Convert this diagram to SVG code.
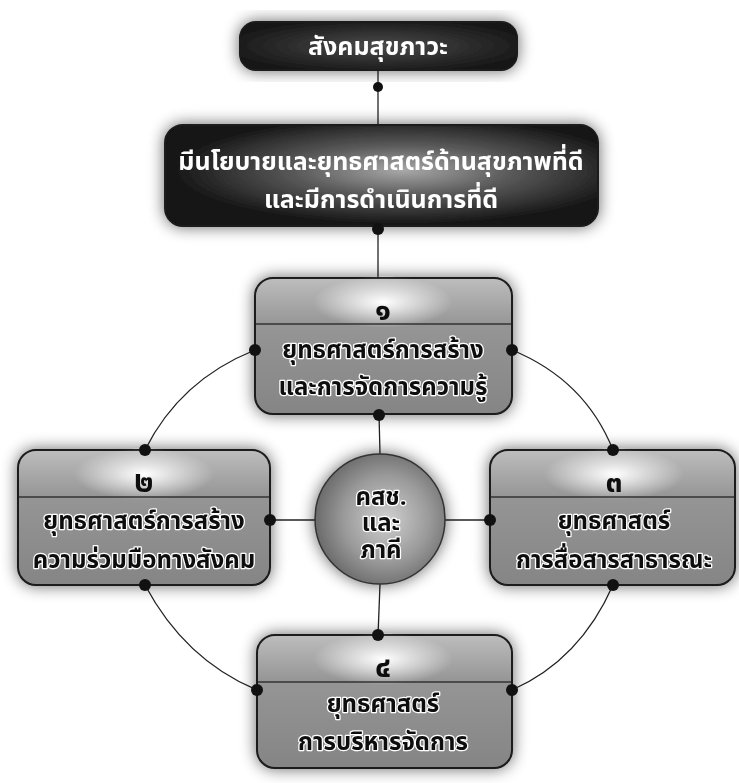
<svg xmlns="http://www.w3.org/2000/svg" width="739" height="783" viewBox="0 0 739 783">
<defs>
<filter id="shadow" x="-15%" y="-25%" width="130%" height="150%">
<feGaussianBlur in="SourceAlpha" stdDeviation="8"/>
<feComponentTransfer><feFuncA type="linear" slope="0.6"/></feComponentTransfer>
<feMerge><feMergeNode/><feMergeNode in="SourceGraphic"/></feMerge>
</filter>
<radialGradient id="gTop" cx="50%" cy="50%" r="60%">
<stop offset="0" stop-color="#4a4a4a"/><stop offset="1" stop-color="#141414"/>
</radialGradient>
<radialGradient id="gPolicy" cx="55%" cy="45%" r="55%">
<stop offset="0" stop-color="#a8a8a8"/><stop offset="0.45" stop-color="#5a5a5a"/><stop offset="1" stop-color="#121212"/>
</radialGradient>
<linearGradient id="gBox" x1="0" y1="0" x2="0" y2="1">
<stop offset="0" stop-color="#bdbdbd"/><stop offset="0.35" stop-color="#959595"/><stop offset="1" stop-color="#858585"/>
</linearGradient>
<radialGradient id="gHi" cx="50%" cy="50%" r="50%">
<stop offset="0" stop-color="#fff" stop-opacity="1"/><stop offset="1" stop-color="#fff" stop-opacity="0"/>
</radialGradient>
<radialGradient id="gCircle" cx="55%" cy="50%" r="55%">
<stop offset="0" stop-color="#d0d0d0"/><stop offset="0.6" stop-color="#9a9a9a"/><stop offset="1" stop-color="#6a6a6a"/>
</radialGradient>
</defs>
<style>
.box{stroke:#1a1a1a;stroke-width:2}
.div{stroke:#333;stroke-width:1.5}
.ln{fill:none;stroke:#222;stroke-width:1.3}
.dot{fill:#111}
.t{font-family:"Noto Sans Thai","Noto Sans","DejaVu Sans",sans-serif;font-weight:bold;text-anchor:middle}
.w{fill:#fff;font-size:25px}
.k{fill:#111;font-size:24px;stroke:#fff;stroke-width:2.5;paint-order:stroke;stroke-linejoin:round}
.n{fill:#111;font-size:30px}
</style>
<rect width="739" height="783" fill="#fff"/>
<g id="connectors">
<line class="ln" x1="378" y1="70" x2="378" y2="125"/>
<line class="ln" x1="378" y1="226" x2="378" y2="278"/>
<line class="ln" x1="379" y1="414" x2="380" y2="454"/>
<line class="ln" x1="380" y1="584" x2="378" y2="636"/>
<line class="ln" x1="270" y1="520" x2="315" y2="520"/>
<line class="ln" x1="445" y1="520" x2="490" y2="520"/>
<path class="ln" d="M255,350 Q180,380 145,450"/>
<path class="ln" d="M512,350 Q585,380 613,450"/>
<path class="ln" d="M145,585 Q185,660 257,690"/>
<path class="ln" d="M613,585 Q580,660 512,690"/>
</g>
<g id="n-top" filter="url(#shadow)">
<rect class="box" x="240" y="22" width="277" height="48" rx="16" fill="url(#gTop)"/>
<text class="t w" x="378" y="55">สังคมสุขภาวะ</text>
</g>
<g id="n-policy" filter="url(#shadow)">
<rect class="box" x="165" y="125" width="433" height="101" rx="18" fill="url(#gPolicy)"/>
<text class="t w" x="381" y="170">มีนโยบายและยุทธศาสตร์ด้านสุขภาพที่ดี</text>
<text class="t w" x="381" y="208">และมีการดำเนินการที่ดี</text>
</g>
<g id="n1" filter="url(#shadow)">
<rect class="box" x="255" y="278" width="257" height="136" rx="18" fill="url(#gBox)"/>
<ellipse cx="383" cy="302" rx="70" ry="26" fill="url(#gHi)"/>
<line class="div" x1="256" y1="324" x2="511" y2="324"/>
<text class="t n" x="383" y="320">๑</text>
<text class="t k" x="383" y="358">ยุทธศาสตร์การสร้าง</text>
<text class="t k" x="383" y="395">และการจัดการความรู้</text>
</g>
<g id="n2" filter="url(#shadow)">
<rect class="box" x="18" y="450" width="252" height="135" rx="18" fill="url(#gBox)"/>
<ellipse cx="144" cy="474" rx="70" ry="26" fill="url(#gHi)"/>
<line class="div" x1="19" y1="497" x2="269" y2="497"/>
<text class="t n" x="144" y="492">๒</text>
<text class="t k" x="144" y="529">ยุทธศาสตร์การสร้าง</text>
<text class="t k" x="144" y="568">ความร่วมมือทางสังคม</text>
</g>
<g id="n3" filter="url(#shadow)">
<rect class="box" x="490" y="450" width="245" height="135" rx="18" fill="url(#gBox)"/>
<ellipse cx="614" cy="474" rx="70" ry="26" fill="url(#gHi)"/>
<line class="div" x1="491" y1="497" x2="734" y2="497"/>
<text class="t n" x="614" y="492">๓</text>
<text class="t k" x="614" y="529">ยุทธศาสตร์</text>
<text class="t k" x="614" y="568">การสื่อสารสาธารณะ</text>
</g>
<g id="n4" filter="url(#shadow)">
<rect class="box" x="257" y="635" width="255" height="133" rx="18" fill="url(#gBox)"/>
<ellipse cx="383" cy="659" rx="70" ry="26" fill="url(#gHi)"/>
<line class="div" x1="258" y1="682" x2="511" y2="682"/>
<text class="t n" x="383" y="677">๔</text>
<text class="t k" x="383" y="712">ยุทธศาสตร์</text>
<text class="t k" x="383" y="750">การบริหารจัดการ</text>
</g>
<g id="n-center" filter="url(#shadow)">
<circle cx="380" cy="519" r="65" fill="url(#gCircle)" stroke="#333" stroke-width="1.5"/>
<text class="t k" x="381" y="505"><tspan x="381" y="505">คสช.</tspan><tspan x="381" y="531">และ</tspan><tspan x="381" y="558">ภาคี</tspan></text>
</g>
<g id="dots">
<circle class="dot" cx="378" cy="87" r="5"/>
<circle class="dot" cx="378" cy="229" r="6"/>
<circle class="dot" cx="255" cy="350" r="6"/>
<circle class="dot" cx="512" cy="350" r="6"/>
<circle class="dot" cx="379" cy="415" r="6"/>
<circle class="dot" cx="145" cy="450" r="6"/>
<circle class="dot" cx="270" cy="520" r="6"/>
<circle class="dot" cx="145" cy="585" r="6"/>
<circle class="dot" cx="613" cy="450" r="6"/>
<circle class="dot" cx="490" cy="520" r="6"/>
<circle class="dot" cx="613" cy="585" r="6"/>
<circle class="dot" cx="378" cy="635" r="6"/>
<circle class="dot" cx="257" cy="690" r="6"/>
<circle class="dot" cx="512" cy="690" r="6"/>
</g>
</svg>
